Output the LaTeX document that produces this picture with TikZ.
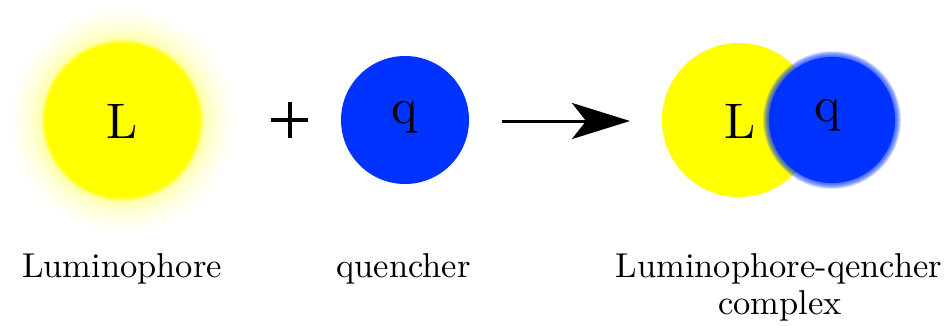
\documentclass[tikz,border=0pt]{standalone}
\usepackage{fontspec}
\usetikzlibrary{arrows.meta}
\definecolor{lumyellow}{RGB}{255,255,0}
\definecolor{qblue}{RGB}{0,51,255}
\newfontfamily\tenfont{lmroman10-regular.otf}
\pgfdeclareradialshading{glowshade}{\pgfpoint{0bp}{0bp}}{%
  color(0bp)=(lumyellow); color(17bp)=(lumyellow);
  color(18bp)=(lumyellow!32!white); color(20.5bp)=(lumyellow!15!white);
  color(23bp)=(lumyellow!6!white); color(25bp)=(white); color(50bp)=(white)}
\begin{document}
\begin{tikzpicture}[x=1pt,y=-1pt,
  ball/.style={circle,inner sep=0pt,minimum size=#1},
  big/.style={anchor=base,font=\tenfont\fontsize{50}{60}\selectfont},
  lab/.style={anchor=base,font=\tenfont\fontsize{34.5}{37}\selectfont,align=center},
  react/.style={line width=3pt,-{Stealth[length=58pt,width=36pt,inset=14pt]}}]
\useasboundingbox (0,0) rectangle (952,325);
% luminophore with glow
\path[shading=glowshade] (122,120) circle[radius=113];
\node[ball=154pt,fill=lumyellow] (L) at (122,120) {};
\node[big] (Lt) at (122,138) {L};
% plus
\coordinate (pc) at (289.5,120);
\draw[line width=4pt] ([xshift=-18.5pt]pc) -- ([xshift=18.5pt]pc);
\draw[line width=4pt] ([yshift=-18pt]pc) -- ([yshift=18pt]pc);
% quencher
\node[ball=128pt,fill=qblue] (Q) at (405,120) {};
\node[big] (Qt) at (404.5,123) {q};
% arrow
\coordinate (a1) at (502,121);
\coordinate (a2) at (630,121);
\draw[react] (a1) -- (a2);
% complex
\node[ball=154pt,fill=lumyellow] (CL) at (739,120) {};
\foreach \r in {69,68.5,68,67.5,67,66.5,66,65.5,65,64.5,64,63.5}
  \fill[qblue,opacity=0.1] (832,120) circle[radius=\r];
\node[ball=126pt,fill=qblue] (CQ) at (832,120) {};
\node[big] (CLt) at (740,138) {L};
\node[big] (CQt) at (828,121) {q};
% labels
\node[lab] (l1) at (122,277) {Luminophore};
\node[lab] (l2) at (403.5,277) {quencher};
\node[lab] (l3) at (779,277) {Luminophore-qencher};
\node[lab] (l4) at (780,314) {complex};
\end{tikzpicture}
\end{document}
